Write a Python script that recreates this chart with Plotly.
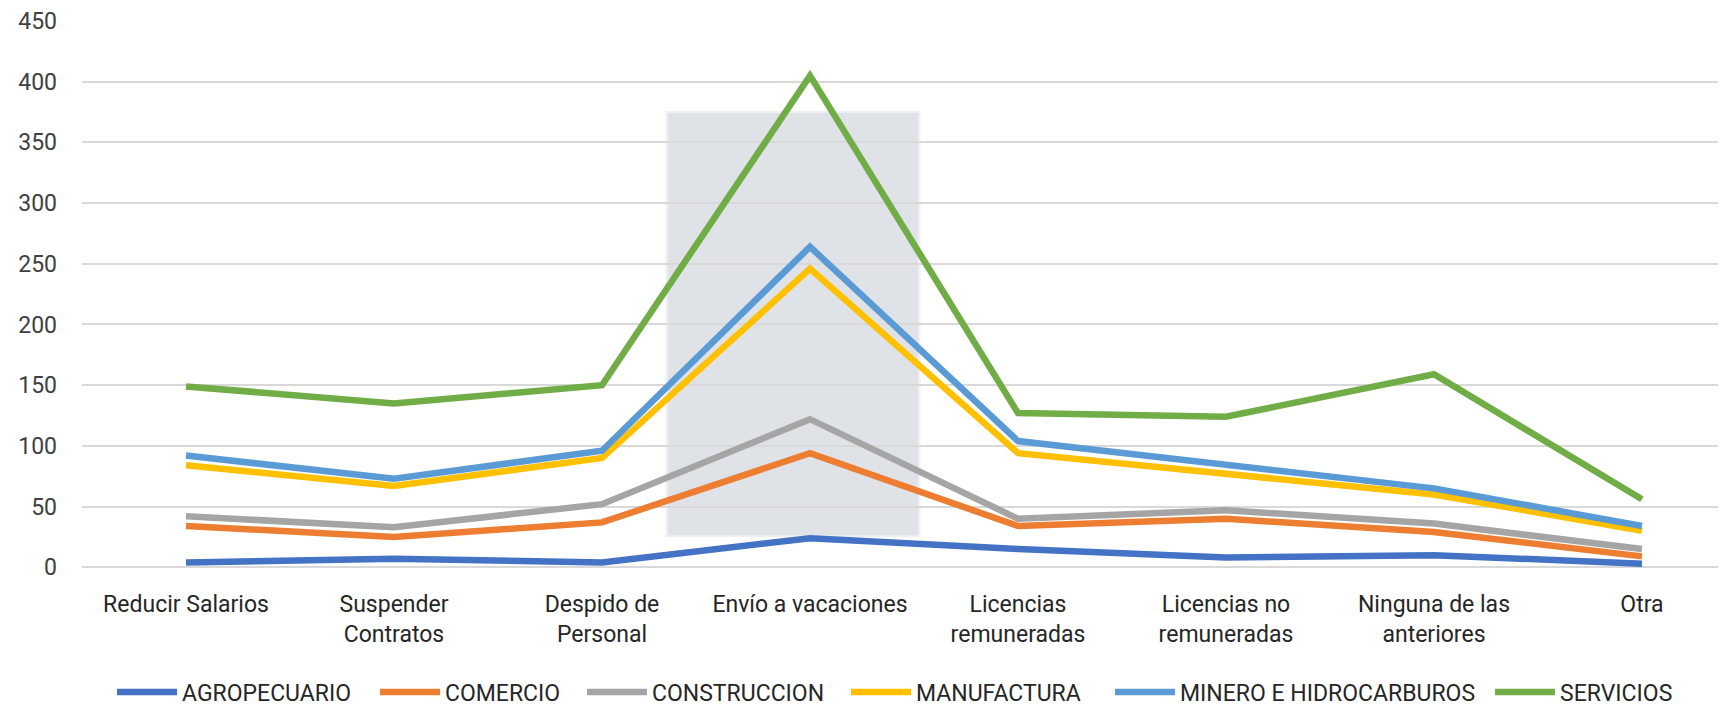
import plotly.graph_objects as go

categories = ["Reducir Salarios", "Suspender Contratos", "Despido de Personal",
              "Envío a vacaciones", "Licencias remuneradas", "Licencias no remuneradas",
              "Ninguna de las anteriores", "Otra"]
tick_labels = ["Reducir Salarios", "Suspender<br>Contratos", "Despido de<br>Personal",
               "Envío a vacaciones", "Licencias<br>remuneradas", "Licencias no<br>remuneradas",
               "Ninguna de las<br>anteriores", "Otra"]

agropecuario = [4, 7, 4, 24, 15, 8, 10, 3]
comercio = [34, 25, 37, 94, 34, 40, 29, 9]
construccion = [42, 33, 52, 122, 40, 47, 36, 15]
manufactura = [84, 67, 90, 246, 94, 77, 60, 30]
minero = [92, 73, 96, 264, 104, 85, 65, 34]
servicios = [149, 135, 150, 405, 127, 124, 159, 56]

series_names = ["AGROPECUARIO", "COMERCIO", "CONSTRUCCION", "MANUFACTURA",
                "MINERO E HIDROCARBUROS", "SERVICIOS"]
series_values = [agropecuario, comercio, construccion, manufactura, minero, servicios]
colors = ["#4472C4", "#ED7D31", "#A5A5A5", "#FFC000", "#5B9BD5", "#70AD47"]

y_ticks = [0, 50, 100, 150, 200, 250, 300, 350, 400, 450]

# figure is drawn inside an 8px page margin
W, H = 1718, 700
legend_x_px = [104, 367, 574, 838, 1102, 1482]

fig = go.Figure()
legend_ids = ["legend"] + ["legend%d" % i for i in range(2, 7)]
for name, vals, col, lid in zip(series_names, series_values, colors, legend_ids):
    fig.add_trace(go.Scatter(x=categories, y=vals, name=name, mode="lines",
                             line=dict(color=col, width=6.5), legend=lid))

# highlighted region behind "Envío a vacaciones" (soft edge + core)
fig.add_shape(type="rect", xref="x", yref="y", x0=2.305, x1=3.531, y0=24.8, y1=375.8,
              fillcolor="#DFE2E7", opacity=0.5, line=dict(width=0), layer="below")
fig.add_shape(type="rect", xref="x", yref="y", x0=2.317, x1=3.519, y0=26.4, y1=374.2,
              fillcolor="#DFE2E7", line=dict(width=0), layer="below")

legend_common = dict(orientation="h", xref="container", yref="container",
                     xanchor="left", y=0.0229, yanchor="middle",
                     itemwidth=60, font=dict(size=23, color="#262626"),
                     bgcolor="rgba(0,0,0,0)")
layout_legends = {}
for lid, px in zip(legend_ids, legend_x_px):
    layout_legends[lid] = dict(legend_common, x=px / W)

fig.update_layout(
    width=W, height=H,
    margin=dict(l=74, r=0, t=13, b=131, autoexpand=False),
    paper_bgcolor="white", plot_bgcolor="rgba(0,0,0,0)",
    font=dict(family="Roboto", size=23, color="#404040"),
    showlegend=True,
    **layout_legends,
)
fig.update_xaxes(type="category", range=[-0.5, 7.404], tickvals=categories, ticktext=tick_labels,
                 showgrid=False, zeroline=False, showline=False, ticks="",
                 tickfont=dict(size=23, color="#262626"), ticklabelstandoff=11)
fig.update_yaxes(range=[-8, 450], tickvals=y_ticks, showgrid=True, gridcolor="#D9D9D9",
                 gridwidth=2, zeroline=False, showline=False, ticks="",
                 tickfont=dict(size=23, color="#404040"), ticklabelstandoff=24)

fig.write_html("out.html")
